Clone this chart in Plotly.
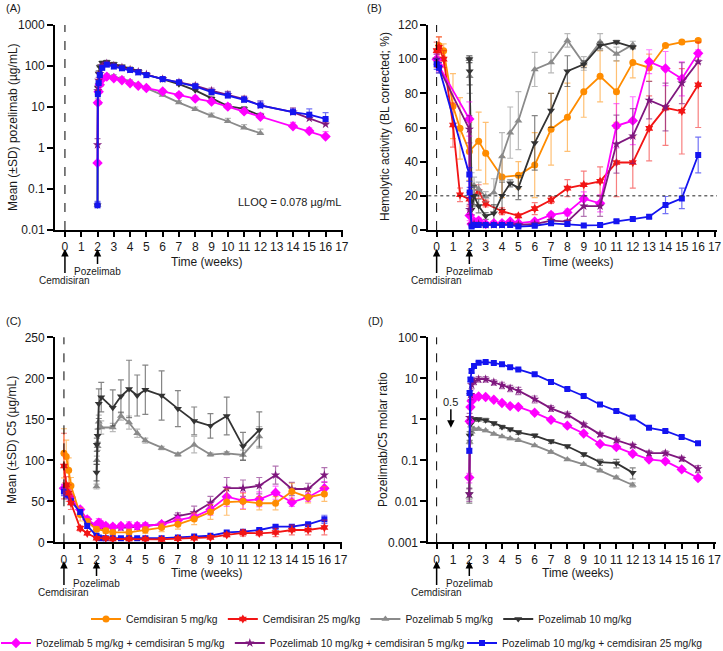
import math
import plotly.graph_objects as go

# ---------------- data ----------------
WEEK_TICKS = list(range(0, 18))

# Panel A: pozelimab concentration (ug/mL)
T_A_POZ = [2, 2.02, 2.07, 2.14, 2.29, 2.57, 3, 3.5, 4, 4.5, 5, 6, 7, 8, 9, 10, 11, 12]
T_A_COMBO = [2, 2.02, 2.07, 2.14, 2.29, 2.57, 3, 3.5, 4, 4.5, 5, 6, 7, 8, 9, 10, 11, 12, 14, 15, 16]
A_POZ5 = [0.04, 12.5, 25, 35, 52, 58, 56, 49, 42, 35, 29, 19.5, 12.8, 8.8, 6.1, 4.5, 3.1, 2.3]
A_POZ5_SD = [0, 4, 6, 6, 6, 6, 6, 5, 4, 3, 3, 2.5, 1.5, 1.2, 1, 0.8, 0.6, 0.6]
A_POZ10 = [0.04, 30, 66, 95, 120, 125, 112, 97, 86, 75, 62, 48, 36, 25.5, 16, 10.5, 9, 6.2]
A_POZ10_SD = [0, 8, 10, 12, 12, 12, 10, 9, 8, 7, 5, 5, 4, 4, 2.5, 1.5, 1.2, 0.8]
A_P5C5 = [0.43, 12.7, 23.6, 35, 48, 55, 50, 45, 38, 33, 29, 24, 19.5, 16, 13.5, 10.2, 7.8, 5.8, 3.4, 2.6, 1.9]
A_P5C5_SD = [0.05, 2, 3, 4, 5, 6, 5, 4, 4, 3, 3, 3, 3, 2.5, 2, 1.8, 1.2, 1, 0.8, 0.5, 0.6]
A_P10C5 = [1.2, 25, 45, 65, 100, 115, 102, 92, 82, 72, 62, 48, 40, 33, 25, 20, 15.5, 11, 7.5, 5.3, 3.8]
A_P10C5_SD = [0.5, 5, 8, 10, 12, 12, 10, 9, 8, 7, 6, 5, 5, 5, 4, 4, 3, 3, 2, 1, 0.5]
A_P10C25 = [0.04, 20.7, 38, 60, 90, 108, 97, 88, 80, 70, 60, 48, 40, 32, 23, 19, 15, 11, 7.5, 6.5, 5.1]
A_P10C25_SD = [0.01, 3, 5, 8, 10, 10, 9, 8, 7, 6, 5, 5, 4, 4, 4, 4, 3, 3, 1.5, 2.5, 2.2]
LLOQ = 0.078

# Panel B: hemolytic activity (%)
T_B_CEM = [0, 0.14, 0.43, 1, 1.43, 2, 2.57, 3, 4, 5, 6, 7, 8, 9, 10, 11, 12, 13, 14, 15, 16]
B_CEM5 = [100, 108, 105, 72.5, 59.5, 46, 52, 45, 31, 32, 38, 59, 66, 81, 90, 81, 98, 95, 108, 110, 111]
B_CEM5_SD = [5, 5, 4, 19, 18, 17, 17, 18, 12, 8, 19, 21, 20, 15, 15, 18, 9, 8, 1, 1, 1]
B_CEM25 = [105, 107, 100, 61.5, 20.6, 18, 22.5, 15.5, 11, 8.3, 12.5, 17.5, 24.5, 26.5, 28.5, 39.5, 39.5, 59.5, 71.5, 69.5, 85]
B_CEM25_SD = [5, 6, 5, 13, 4, 4, 4, 2, 2, 1, 3.5, 2, 5, 8, 8.5, 20, 15, 19, 22, 25, 25]
T_B_POZ = [2, 2.02, 2.14, 2.29, 2.57, 3, 3.5, 4, 4.5, 5, 6, 7, 8, 9, 10, 11, 12]
B_POZ5 = [100, 90, 25.5, 26, 24, 19.5, 22, 43, 57, 64, 94, 98, 111, 97.5, 110, 103, 108.5]
B_POZ5_SD = [2, 10, 8, 5, 4, 3, 8, 14, 15, 17, 10, 6, 4, 4, 5, 4, 2]
B_POZ10 = [100, 93, 12, 20, 14, 8.2, 9.8, 20, 27.3, 24.8, 51, 70, 93, 97, 108, 110, 107]
B_POZ10_SD = [2, 8, 3, 6, 4, 2, 5, 8, 2, 7, 16, 10, 9, 2, 2, 1, 1]
T_B_COMBO = [0, 0.14, 2, 2.02, 2.14, 2.29, 2.57, 3, 3.5, 4, 4.5, 5, 6, 7, 8, 9, 10, 11, 12, 13, 14, 15, 16]
B_P5C5 = [100, 96, 65, 8.5, 3.5, 5, 5.5, 3.5, 4, 4, 5, 4, 5, 8.8, 10.3, 18.3, 15.6, 61, 64, 98.5, 94.5, 88.5, 103.4]
B_P5C5_SD = [3, 3, 10, 3, 1, 1.5, 1.5, 1, 1, 1, 1, 1, 1, 1.5, 2, 4, 5, 13, 14, 7, 10, 10, 2]
B_P10C5 = [100, 95, 59, 12, 3, 3.5, 3.5, 3, 3, 3, 3.5, 3, 3.5, 5.5, 4.9, 14, 14, 50.3, 55, 76, 72, 86, 98.5]
B_P10C5_SD = [3, 3, 8, 3, 1, 1, 1, 1, 1, 1, 1, 1, 1, 1, 1, 6, 6, 17, 16, 11, 14, 12, 1]
B_P10C25 = [97, 95, 32.5, 22, 2, 3, 3, 3, 3, 3, 3, 2, 2.5, 3.9, 3.5, 2.7, 2.9, 5.1, 6.4, 7.8, 14.6, 18.5, 43.9]
B_P10C25_SD = [3, 3, 4, 3, 0.5, 0.5, 0.5, 0.5, 0.5, 0.5, 0.5, 0.5, 0.5, 0.5, 0.5, 0.5, 0.5, 1, 1, 1, 5, 6, 10.5]
HEMO_REF = 20

# Panel C: C5 concentration (ug/mL)
T_C_CEM = [0, 0.14, 0.29, 0.43, 1, 1.43, 2, 2.57, 3, 4, 5, 6, 7, 8, 9, 10, 11, 12, 13, 14, 15, 16]
C_CEM5 = [108.5, 104.5, 88, 69, 34, 25, 16, 14, 12, 12, 15, 18, 22, 28.5, 37, 49, 50, 47.6, 47.6, 62, 55, 59]
C_CEM5_SD = [30, 20, 15, 10, 8, 4, 3, 3, 3, 4, 4, 5, 6, 7, 9, 16, 10, 8, 8, 10, 7, 9]
C_CEM25 = [93, 70, 60, 48, 17, 11, 5, 5, 4, 4, 4, 3.5, 4.5, 5, 6, 9, 11.5, 11, 12, 15, 15, 18]
C_CEM25_SD = [40, 10, 10, 8, 3, 2, 1, 1, 1, 1, 1, 1, 1, 1, 1, 2, 4, 3, 5, 6, 6, 9]
T_C_POZ = [2, 2.02, 2.07, 2.14, 2.29, 3, 3.5, 4, 4.5, 5, 6, 7, 8, 9, 10, 11, 12]
C_POZ5 = [68, 100, 117, 147, 140, 140, 154, 146, 133, 124, 115, 107, 119, 107, 108.5, 106.5, 129]
C_POZ5_SD = [3, 5, 5, 8, 8, 5, 5, 8, 5, 3, 2, 2, 10, 2, 2, 6, 12]
C_POZ10 = [85, 119, 130, 169, 177, 164, 178, 187, 179, 186, 179, 163, 148, 142, 154, 117, 137]
C_POZ10_SD = [10, 8, 8, 18, 18, 22, 20, 35, 25, 30, 30, 22, 17, 15, 23, 17, 22]
T_C_COMBO = [0, 0.14, 0.43, 1, 1.43, 2, 2.14, 2.29, 2.57, 3, 3.5, 4, 4.5, 5, 6, 7, 8, 9, 10, 11, 12, 13, 14, 15, 16]
C_P5C5 = [66, 64, 55, 40, 28, 20, 24, 22, 20, 19, 20, 20, 20, 20, 22, 27, 31, 40, 55.7, 50.8, 52.4, 60.5, 48.8, 55, 66]
C_P5C5_SD = [5, 5, 4, 3, 3, 4, 5, 4, 3, 3, 3, 5, 4, 4, 3, 4, 4, 7, 12, 10, 9, 8, 5, 5, 8]
C_P10C5 = [65, 62, 53, 38, 26, 18, 20, 19, 18, 18, 18, 18, 19, 20, 22, 32, 36, 48, 66, 66, 69, 82, 65, 65, 82]
C_P10C5_SD = [5, 5, 4, 3, 3, 3, 3, 3, 3, 3, 3, 3, 3, 3, 3, 4, 8, 8, 13, 10, 10, 11, 8, 7, 9]
C_P10C25 = [62, 58, 50, 37, 20, 8, 6, 5, 5, 5, 5, 5, 5, 5, 5, 6, 7, 8, 12, 13, 15, 19, 19, 22, 28]
C_P10C25_SD = [5, 5, 4, 3, 3, 2, 1, 1, 1, 1, 1, 1, 1, 1, 1, 1, 1, 1, 1.5, 1.5, 2, 2, 2, 2, 5]

# Panel D: pozelimab / C5 molar ratio
T_D_POZ = [2, 2.02, 2.07, 2.14, 2.29, 2.57, 3, 3.5, 4, 4.5, 5, 6, 7, 8, 9, 10, 11, 12]
T_D_COMBO = [2, 2.02, 2.07, 2.14, 2.29, 2.57, 3, 3.5, 4, 4.5, 5, 6, 7, 8, 9, 10, 11, 12, 13, 14, 15, 16]
D_POZ5 = [0.013, 0.28, 0.44, 0.5, 0.58, 0.58, 0.53, 0.44, 0.38, 0.34, 0.31, 0.23, 0.16, 0.105, 0.08, 0.056, 0.038, 0.025]
D_POZ5_SD = [0.002, 0.03, 0.03, 0.03, 0.03, 0.03, 0.03, 0.02, 0.02, 0.02, 0.02, 0.01, 0.01, 0.005, 0.004, 0.004, 0.003, 0.003]
D_POZ10 = [0.015, 0.4, 0.75, 0.95, 1.0, 1.0, 0.95, 0.8, 0.65, 0.57, 0.48, 0.4, 0.29, 0.22, 0.14, 0.09, 0.085, 0.05]
D_POZ10_SD = [0.006, 0.1, 0.1, 0.1, 0.1, 0.1, 0.1, 0.08, 0.06, 0.05, 0.05, 0.04, 0.03, 0.02, 0.015, 0.015, 0.02, 0.015]
D_P5C5 = [0.038, 0.9, 2.0, 2.8, 3.3, 3.6, 3.5, 3.0, 2.5, 2.1, 2.0, 1.45, 0.97, 0.7, 0.45, 0.25, 0.21, 0.145, 0.105, 0.095, 0.06, 0.037]
D_P5C5_SD = [0.01, 0.1, 0.2, 0.2, 0.2, 0.2, 0.2, 0.2, 0.15, 0.1, 0.1, 0.1, 0.05, 0.04, 0.03, 0.02, 0.02, 0.01, 0.01, 0.01, 0.005, 0.004]
D_P10C5 = [0.015, 1.1, 4, 7, 8.5, 9.5, 9.5, 8, 6.8, 5.7, 5, 3.1, 1.85, 1.3, 0.74, 0.43, 0.31, 0.23, 0.15, 0.15, 0.11, 0.062]
D_P10C5_SD = [0.005, 0.3, 1, 1.5, 1.5, 1.5, 1.5, 1.2, 1.2, 1.0, 1.0, 0.6, 0.3, 0.2, 0.1, 0.05, 0.04, 0.03, 0.02, 0.02, 0.015, 0.012]
D_P10C25 = [0.17, 4.4, 9.3, 15, 20, 24, 25, 23.5, 22, 18.5, 16.5, 12.5, 8.1, 5.5, 3.7, 2.3, 1.6, 1.1, 0.62, 0.52, 0.37, 0.26]
D_P10C25_SD = [0.02, 0.5, 1, 1.5, 1.5, 1.5, 1.5, 1.5, 1.5, 1.2, 1.0, 0.8, 0.5, 0.3, 0.2, 0.15, 0.1, 0.07, 0.04, 0.03, 0.03, 0.02]
MOLAR_REF = 0.5

SERIES_NAMES = {
    "cem5": "Cemdisiran 5 mg/kg",
    "cem25": "Cemdisiran 25 mg/kg",
    "poz5": "Pozelimab 5 mg/kg",
    "poz10": "Pozelimab 10 mg/kg",
    "p5c5": "Pozelimab 5 mg/kg + cemdisiran 5 mg/kg",
    "p10c5": "Pozelimab 10 mg/kg + cemdisiran 5 mg/kg",
    "p10c25": "Pozelimab 10 mg/kg + cemdisiran 25 mg/kg",
}

# ---------------- styles ----------------
W, H = 723, 651
FONT = "Liberation Sans, Arial, sans-serif"


def fx(p):
    return p / W


def fy(p):
    return 1 - p / H


STYLE = {
    "cem5": dict(color="#FF8C00", ecolor="rgba(255,140,0,0.55)", symbol="circle", size=7),
    "cem25": dict(color="#F21515", ecolor="rgba(242,21,21,0.55)", symbol="hexagram", size=7),
    "poz5": dict(color="#8A8A8A", ecolor="rgba(138,138,138,0.6)", symbol="triangle-up", size=7),
    "poz10": dict(color="#333333", ecolor="rgba(51,51,51,0.6)", symbol="triangle-down", size=7),
    "p5c5": dict(color="#FF00FF", ecolor="rgba(255,0,255,0.55)", symbol="diamond", size=8),
    "p10c5": dict(color="#7F177E", ecolor="rgba(127,23,126,0.6)", symbol="star", size=7),
    "p10c25": dict(color="#1414F0", ecolor="rgba(20,20,240,0.6)", symbol="square", size=6),
}

fig = go.Figure()


def add(xa, ya, t, v, sd, key, legend=None, upper_only=False):
    st = STYLE[key]
    err = dict(type="data", array=sd, visible=True, color=st["ecolor"], thickness=1.2, width=3)
    if upper_only:
        err.update(symmetric=False, arrayminus=[0] * len(sd))
    fig.add_trace(go.Scatter(
        x=t, y=v, mode="lines+markers", name=SERIES_NAMES[key],
        line=dict(color=st["color"], width=1.8),
        marker=dict(symbol=st["symbol"], size=st["size"], color=st["color"], line=dict(width=0)),
        error_y=err, xaxis=xa, yaxis=ya,
        showlegend=legend is not None, legend=legend or "legend", legendgroup=key,
    ))


# Panel A
add("x", "y", T_A_POZ, A_POZ10, A_POZ10_SD, "poz10", upper_only=True)
add("x", "y", T_A_POZ, A_POZ5, A_POZ5_SD, "poz5", upper_only=True)
add("x", "y", T_A_COMBO, A_P5C5, A_P5C5_SD, "p5c5", upper_only=True)
add("x", "y", T_A_COMBO, A_P10C5, A_P10C5_SD, "p10c5", upper_only=True)
add("x", "y", T_A_COMBO, A_P10C25, A_P10C25_SD, "p10c25", upper_only=True)

# Panel B (carries legend)
add("x2", "y2", T_B_CEM, B_CEM5, B_CEM5_SD, "cem5", legend="legend")
add("x2", "y2", T_B_CEM, B_CEM25, B_CEM25_SD, "cem25", legend="legend")
add("x2", "y2", T_B_POZ, B_POZ5, B_POZ5_SD, "poz5", legend="legend")
add("x2", "y2", T_B_POZ, B_POZ10, B_POZ10_SD, "poz10", legend="legend")
add("x2", "y2", T_B_COMBO, B_P5C5, B_P5C5_SD, "p5c5", legend="legend2")
add("x2", "y2", T_B_COMBO, B_P10C5, B_P10C5_SD, "p10c5", legend="legend2")
add("x2", "y2", T_B_COMBO, B_P10C25, B_P10C25_SD, "p10c25", legend="legend3")

# Panel C
add("x3", "y3", T_C_POZ, C_POZ5, C_POZ5_SD, "poz5")
add("x3", "y3", T_C_POZ, C_POZ10, C_POZ10_SD, "poz10")
add("x3", "y3", T_C_COMBO, C_P10C5, C_P10C5_SD, "p10c5")
add("x3", "y3", T_C_COMBO, C_P5C5, C_P5C5_SD, "p5c5")
add("x3", "y3", T_C_CEM, C_CEM5, C_CEM5_SD, "cem5")
add("x3", "y3", T_C_COMBO, C_P10C25, C_P10C25_SD, "p10c25")
add("x3", "y3", T_C_CEM, C_CEM25, C_CEM25_SD, "cem25")

# Panel D
add("x4", "y4", T_D_POZ, D_POZ5, D_POZ5_SD, "poz5")
add("x4", "y4", T_D_POZ, D_POZ10, D_POZ10_SD, "poz10")
add("x4", "y4", T_D_COMBO, D_P5C5, D_P5C5_SD, "p5c5")
add("x4", "y4", T_D_COMBO, D_P10C5, D_P10C5_SD, "p10c5")
add("x4", "y4", T_D_COMBO, D_P10C25, D_P10C25_SD, "p10c25")

# ---------------- axes ----------------
tickfont = dict(family=FONT, size=12, color="#1a1a1a")


def xax(domain, rng, anchor):
    return dict(domain=domain, range=rng, anchor=anchor, tickmode="array", tickvals=WEEK_TICKS,
                showline=True, linecolor="black", linewidth=1.8, ticks="outside", ticklen=5,
                tickwidth=1.5, tickcolor="black", showgrid=False, zeroline=False, tickfont=tickfont)


def yax(domain, anchor, **kw):
    d = dict(domain=domain, anchor=anchor, showline=True, linecolor="black", linewidth=1.8,
             ticks="outside", ticklen=6, tickwidth=1.5, tickcolor="black", showgrid=False,
             zeroline=False, tickfont=tickfont)
    d.update(kw)
    return d


LOG_A_VALS = [0.01, 0.1, 1, 10, 100, 1000]
LOG_D_VALS = [0.001, 0.01, 0.1, 1, 10, 100]

top_dom = [fy(230), fy(25)]
bot_dom = [fy(542.3), fy(337.3)]

fig.update_layout(
    xaxis=xax([fx(55), fx(343)], [-0.61, 17.07], "y"),
    yaxis=yax(top_dom, "x", type="log", range=[-2, 3], tickvals=LOG_A_VALS,
              ticktext=[str(v) for v in LOG_A_VALS]),
    xaxis2=xax([fx(428.3), fx(717)], [-0.51, 17.15], "y2"),
    yaxis2=yax(top_dom, "x2", range=[0, 120], tickvals=list(range(0, 121, 20))),
    xaxis3=xax([fx(55), fx(342.3)], [-0.55, 17.1], "y3"),
    yaxis3=yax(bot_dom, "x3", range=[0, 250], tickvals=list(range(0, 251, 50))),
    xaxis4=xax([fx(428.3), fx(716)], [-0.51, 17.1], "y4"),
    yaxis4=yax(bot_dom, "x4", type="log", range=[-3, 2], tickvals=LOG_D_VALS,
               ticktext=[str(v) for v in LOG_D_VALS]),
)

# ---------------- reference lines ----------------
shapes = []
for xr, yr in [("x", "y"), ("x2", "y2"), ("x3", "y3"), ("x4", "y4")]:
    shapes.append(dict(type="line", xref=xr, yref=yr + " domain", x0=0, x1=0, y0=0, y1=1,
                       line=dict(color="black", width=1, dash="dash")))
shapes.append(dict(type="line", xref="x domain", yref="y", x0=0, x1=1,
                   y0=math.log10(LLOQ), y1=math.log10(LLOQ),
                   line=dict(color="#444444", width=1, dash="dot")))
shapes.append(dict(type="line", xref="x2 domain", yref="y2", x0=0, x1=1, y0=HEMO_REF, y1=HEMO_REF,
                   line=dict(color="#222222", width=1, dash="dot")))
shapes.append(dict(type="line", xref="x4 domain", yref="y4", x0=0, x1=1,
                   y0=math.log10(MOLAR_REF), y1=math.log10(MOLAR_REF),
                   line=dict(color="#222222", width=1, dash="dot")))
fig.update_layout(shapes=shapes)

# ---------------- annotations ----------------
ann = []
small = dict(family=FONT, size=10, color="#1a1a1a")
lab = dict(family=FONT, size=12, color="#1a1a1a")

# panel letters
for txt, px, py in [("(A)", 4, 8), ("(B)", 365, 8), ("(C)", 4, 321), ("(D)", 366, 321)]:
    ann.append(dict(text=txt, x=fx(px), y=fy(py), xref="paper", yref="paper", showarrow=False,
                    xanchor="left", yanchor="middle", font=dict(family=FONT, size=11, color="#1a1a1a")))

# axis titles
for txt, px, py in [("Time (weeks)", 207, 262), ("Time (weeks)", 578, 262),
                    ("Time (weeks)", 207, 573), ("Time (weeks)", 578, 573)]:
    ann.append(dict(text=txt, x=fx(px), y=fy(py), xref="paper", yref="paper", showarrow=False,
                    xanchor="center", yanchor="middle", font=lab))
for txt, px, py in [("Mean (±SD) pozelimab (µg/mL)", 13, 127),
                    ("Hemolytic activity (BL corrected; %)", 385, 127),
                    ("Mean (±SD) C5 (µg/mL)", 12, 440),
                    ("Pozelimab/C5 molar ratio", 383, 440)]:
    ann.append(dict(text=txt, x=fx(px), y=fy(py), xref="paper", yref="paper", showarrow=False,
                    textangle=-90, xanchor="center", yanchor="middle", font=lab))

# dosing arrows below x-axes
for xr, head in [("x", 249), ("x2", 249), ("x3", 561), ("x4", 561)]:
    ann.append(dict(text="Cemdisiran", x=0, y=fy(head), xref=xr, yref="paper", showarrow=True,
                    ax=0, ay=31, arrowhead=2, arrowsize=1, arrowwidth=1.5, arrowcolor="black",
                    font=small))
    ann.append(dict(text="Pozelimab", x=2, y=fy(head), xref=xr, yref="paper", showarrow=True,
                    ax=0, ay=22, arrowhead=2, arrowsize=1, arrowwidth=1.5, arrowcolor="black",
                    font=small))

# LLOQ label
ann.append(dict(text="LLOQ = 0.078 µg/mL", x=17.05, y=math.log10(LLOQ), xref="x", yref="y",
                showarrow=False, xanchor="right", yanchor="top", yshift=-1,
                font=dict(family=FONT, size=11, color="#1a1a1a")))
# 0.5 marker in D
ann.append(dict(text="0.5", x=0.87, y=math.log10(MOLAR_REF), xref="x4", yref="y4", showarrow=True,
                ax=0, ay=-30, standoff=4, arrowhead=2, arrowsize=1, arrowwidth=1.5,
                arrowcolor="black", font=dict(family=FONT, size=11, color="#1a1a1a")))
fig.update_layout(annotations=ann)

# ---------------- layout ----------------
legend_common = dict(orientation="h", yanchor="middle",
                     font=dict(family=FONT, size=10.3, color="#1a1a1a"), itemwidth=30,
                     bgcolor="rgba(0,0,0,0)", traceorder="normal")
fig.update_layout(
    width=W, height=H,
    margin=dict(l=0, r=0, t=0, b=0, autoexpand=False),
    paper_bgcolor="white", plot_bgcolor="white",
    font=dict(family=FONT, color="#1a1a1a"),
    legend=dict(legend_common, x=0.5, xanchor="center", y=fy(619)),
    legend2=dict(legend_common, x=fx(470), xanchor="right", y=fy(643)),
    legend3=dict(legend_common, x=fx(462), xanchor="left", y=fy(643)),
)

fig.write_html("out.html", config={"displayModeBar": False},
               post_script="document.body.style.margin='0px';")
